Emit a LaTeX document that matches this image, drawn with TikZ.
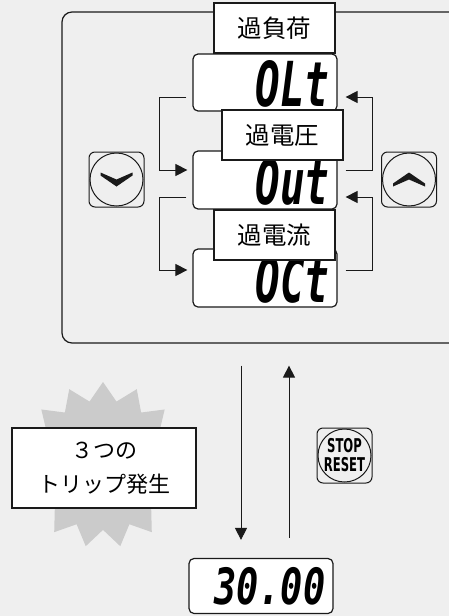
\documentclass[tikz,border=0pt]{standalone}
\usepackage{fontspec}
\usepackage{graphicx}
\usetikzlibrary{arrows.meta,shapes.geometric,calc}
\newfontfamily\jpfont{Noto Sans CJK JP}
\newfontfamily\segfont{DejaVu Sans Mono}
\newfontfamily\keyfont{DejaVu Sans Condensed}
\definecolor{tpbg}{HTML}{EFEFEF}
\definecolor{tpstar}{HTML}{CBCBCB}
\definecolor{tpline}{HTML}{1A1A1A}
% segment-like display text: size, horizontal squeeze, text
\newcommand{\segtext}[3]{\scalebox{#2}[1]{\fontsize{#1}{#1}\selectfont\segfont\bfseries\itshape #3}}
\tikzset{
  lcd/.style={draw=tpline, line width=1.2pt, fill=white, rounded corners=5pt, minimum width=144pt, minimum height=58pt, inner sep=0pt},
  lcdtext/.style={anchor=east, inner sep=0pt},
  tag/.style={draw=tpline, line width=1.3pt, fill=white, minimum width=121pt, minimum height=50pt, inner sep=0pt, font=\jpfont\fontsize{24.5}{24.5}\selectfont},
  keybox/.style={draw=tpline, line width=1pt, rounded corners=6pt, minimum size=55pt, inner sep=0pt},
  keyring/.style={draw=tpline, line width=1pt, circle, minimum size=53pt, inner sep=0pt},
  link/.style={draw=tpline, line width=0.9pt, -{Triangle[length=12pt,width=12pt]}}
}

\begin{document}
\begin{tikzpicture}[x=1pt, y=-1pt]
  \fill[tpbg] (0,0) rectangle (449,616);
  \clip (0,0) rectangle (449,616);

  % panel with the three trip displays
  \node[draw=tpline, line width=1.2pt, rounded corners=10pt, minimum width=408pt, minimum height=331pt] (panel) at (266,177.5) {};
  \node[lcd, minimum height=57pt] (dispOL) at (265,82.5) {};
  \node[lcd] (dispOV) at (265,180) {};
  \node[lcd] (dispOC) at (265,278) {};
  \node[lcdtext] (txtOL) at ([xshift=-8pt,yshift=-1pt]dispOL.east) {\segtext{62}{0.66}{OLt}};
  \node[lcdtext] (txtOV) at ([xshift=-8pt,yshift=-1.5pt]dispOV.east) {\segtext{62}{0.66}{Out}};
  \node[lcdtext] (txtOC) at ([xshift=-8pt,yshift=-1.5pt]dispOC.east) {\segtext{62}{0.66}{OCt}};
  \node[tag] (lblOL) at (274.5,28) {過負荷};
  \node[tag] (lblOV) at (282.5,135) {過電圧};
  \node[tag] (lblOC) at (274.5,235) {過電流};

  % down / up keys
  \node[keybox] (keyDn) at (116.5,179.5) {};
  \node[keyring] (ringDn) at (keyDn) {};
  \fill[tpline] ($(keyDn)+(-16,-7)$) -- ($(keyDn)+(0,0)$) -- ($(keyDn)+(16,-7)$) -- ($(keyDn)+(16,-4)$) -- ($(keyDn)+(0,7)$) -- ($(keyDn)+(-16,-4)$) -- cycle;
  \node[keybox] (keyUp) at (409,179.5) {};
  \node[keyring] (ringUp) at (keyUp) {};
  \fill[tpline] ($(keyUp)+(-16,7)$) -- ($(keyUp)+(0,0)$) -- ($(keyUp)+(16,7)$) -- ($(keyUp)+(16,4)$) -- ($(keyUp)+(0,-7)$) -- ($(keyUp)+(-16,4)$) -- cycle;

  \draw[link] ([xshift=-6pt,yshift=-14.5pt]dispOL.west) -- ++(-27,0) |- ([xshift=-5pt,yshift=10pt]dispOV.west);
  \draw[link] ([xshift=-6pt,yshift=-17pt]dispOV.west) -- ++(-27,0) |- ([xshift=-5pt,yshift=8pt]dispOC.west);
  \draw[link] ([xshift=8pt,yshift=10pt]dispOV.east) -- ++(27,0) |- ([xshift=8pt,yshift=-14.5pt]dispOL.east);
  \draw[link] ([xshift=8pt,yshift=8pt]dispOC.east) -- ++(27,0) |- ([xshift=8pt,yshift=-17pt]dispOV.east);

  % trip event and reset
  \node[star, star points=15, star point ratio=1.28, minimum size=166pt, fill=tpstar, inner sep=0pt] (burst) at (103,465) {};
  \node[draw=tpline, line width=1.5pt, fill=white, minimum width=184pt, minimum height=80pt, align=center, font=\jpfont\fontsize{22}{34}\selectfont] (trip) at (104,468) {３つの\\トリップ発生};

  \node[lcd, minimum height=55pt] (dispRun) at (261,586) {};
  \node[lcdtext] (txtRun) at ([xshift=-8pt,yshift=0pt]dispRun.east) {\segtext{50}{0.74}{30.00}};

  \draw[link] ($(panel.south)+(-25,22)$) -- ($(dispRun.north)+(-20,-18)$);
  \draw[link] ($(dispRun.north)+(28,-20)$) -- ($(panel.south)+(23,22)$);

  \node[keybox] (keyStop) at (344.5,455.5) {};
  \node[keyring] (ringStop) at (keyStop) {};
  \node[align=center, inner sep=0pt, font=\keyfont\bfseries\fontsize{19}{19}\selectfont] (txtStop) at (keyStop) {\scalebox{0.68}[1]{STOP}\\\scalebox{0.68}[1]{RESET}};
\end{tikzpicture}
\end{document}
